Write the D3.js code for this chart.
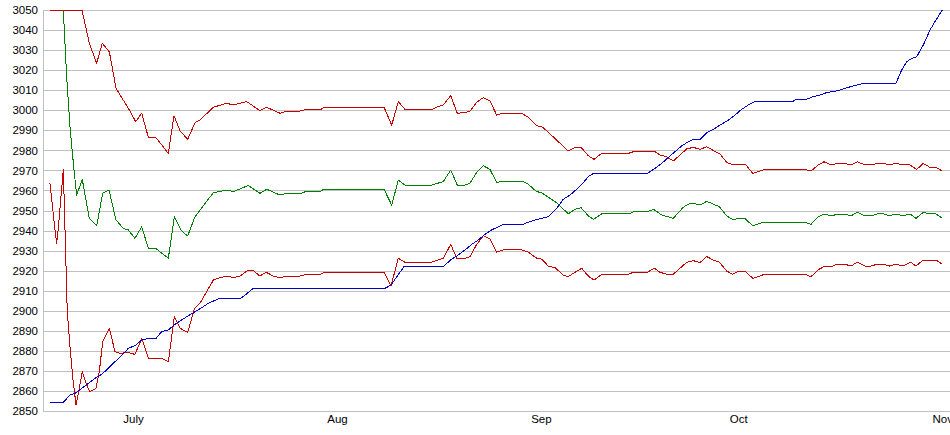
<!DOCTYPE html>
<html>
<head>
<meta charset="utf-8">
<script src="https://cdn.jsdelivr.net/npm/d3@7"></script>
<style>
  html, body { margin: 0; padding: 0; background: #fff; }
  svg { display: block; }
  text { font-family: "Liberation Sans", Arial, sans-serif; font-size: 11.5px; fill: #000; }
</style>
</head>
<body>
<svg id="chart" width="950" height="435"></svg>
<script>
// ---- Data (x = days since 1 July, value) ----
const monthLabels = ["July", "Aug", "Sep", "Oct", "Nov"];
const monthStarts = ["2007-07-01", "2007-08-01", "2007-09-01", "2007-10-01", "2007-11-01"];
const yTicks = [2850, 2860, 2870, 2880, 2890, 2900, 2910, 2920, 2930, 2940, 2950,
                2960, 2970, 2980, 2990, 3000, 3010, 3020, 3030, 3040, 3050];

const upperBand = [
  [-12.62,3050],[-7.76,3050],[-6.64,3033.4],[-5.52,3023.4],[-4.67,3033.4],[-3.60,3029.2],[-2.58,3010.9],
  [-0.71,3001],[0.41,2994.3],[1.32,2998.5],[2.33,2986.5],[3.45,2986.5],[5.37,2978.5],[6.23,2997.3],
  [7.14,2989.8],[8.31,2985.5],[9.42,2993.8],[10.18,2995.1],[12.21,3001.5],[14.24,3003.5],[15.25,3002.6],
  [17.28,3004.3],[19.30,2999.8],[20.32,3001.5],[22.34,2998.5],[23.36,2999.6],[25.38,2999.6],[26.40,3000.4],
  [28.53,3000.4],[29.03,3001.5],[38.15,3001.5],[39.32,2992.6],[40.33,3004.3],[41.34,3000.4],[45.40,3000.4],
  [46.16,3001.5],[47.16,3002.6],[48.29,3007.3],[49.29,2998.5],[50.46,2998.8],[51.22,2999.6],[52.24,3004],
  [53.25,3006.3],[54.26,3004.6],[55.28,2997.6],[56.19,2998.5],[59.08,2998.5],[60.08,2996.5],[61.36,2992.3],
  [62.12,2991.8],[62.88,2989.8],[64.65,2984.3],[66.17,2979.7],[67.18,2981.5],[68.10,2981.5],[69.21,2977.3],
  [70.07,2975.5],[71.24,2978.5],[75.29,2978.5],[76.05,2979.3],[79.34,2979.3],[80.10,2977.7],[81.12,2976.8],
  [82.12,2974.7],[83.14,2977.7],[84.16,2980.7],[85.16,2981.5],[86.18,2980.5],[87.20,2981.8],[88.72,2979],
  [89.22,2978.2],[90.24,2974],[91.24,2972.7],[93.17,2972.7],[94.19,2968.5],[95.05,2969.4],[96.06,2970.5],
  [102.14,2970.5],[103.05,2969.7],[104.16,2972.7],[105.03,2974.3],[106.20,2972.7],[106.96,2973.5],
  [108.22,2973.5],[109.13,2972.7],[110.09,2974.3],[111.26,2972.7],[112.13,2972.7],[113.13,2973.5],
  [114.04,2973.5],[114.96,2972.7],[115.97,2973.5],[117.08,2972.7],[118.10,2972.7],[119.12,2970.5],
  [120.12,2973.5],[121.14,2971.5],[122.05,2971.5],[123.01,2969.7]
];

const middleBand = [
  [-10.59,3050],[-10.08,3016.7],[-9.58,2991.8],[-8.97,2970.2],[-8.56,2957.7],[-7.71,2965.5],[-6.64,2946.1],
  [-5.52,2942.3],[-4.61,2958.6],[-3.65,2960.2],[-2.6,2945.3],[-1.47,2941.1],[-0.71,2940.3],[0.30,2936.1],
  [1.32,2941.9],[2.33,2931.1],[3.45,2931.1],[5.37,2926.2],[6.28,2946.9],[7.40,2939.8],[8.31,2937.3],
  [9.42,2946.9],[10.18,2950.2],[12.21,2958.9],[14.24,2960.2],[15.25,2959.4],[17.52,2962.5],[19.30,2958.6],
  [20.32,2960.6],[22.34,2957.7],[23.36,2958.6],[25.64,2958.6],[26.40,2959.7],[28.53,2959.7],[29.03,2960.6],
  [38.15,2960.6],[39.32,2952.7],[40.33,2965.2],[41.34,2962.7],[45.40,2962.7],[47.16,2964.4],[48.29,2970.2],
  [49.29,2962.7],[50.46,2962.7],[51.22,2963.6],[52.24,2969],[53.25,2972.3],[54.26,2970.5],[55.28,2963.9],
  [56.19,2964.7],[59.08,2964.7],[60.08,2963.1],[61.36,2959.4],[62.12,2958.9],[63.12,2956.6],[64.40,2953.9],
  [66.17,2948.3],[67.18,2950.6],[68.10,2951.4],[69.21,2947.3],[69.97,2945.6],[71.24,2948.3],[75.29,2948.3],
  [76.05,2949.3],[78.17,2949.3],[79.09,2950.6],[80.36,2947.8],[82.12,2946.1],[83.64,2951.6],[84.40,2953.2],
  [85.16,2953.6],[86.18,2952.7],[87.20,2954.6],[89.12,2951.9],[90.24,2947.3],[91.24,2945.3],[92.00,2946.1],
  [93.02,2946.1],[94.19,2942.3],[95.80,2944.1],[102.14,2944.1],[103.05,2943.1],[104.16,2946.9],[105.03,2948.3],
  [106.20,2947.3],[106.96,2948.1],[108.22,2948.1],[109.13,2947.3],[110.09,2949.1],[111.26,2947.3],
  [112.13,2947.3],[113.13,2948.3],[114.04,2948.3],[114.96,2947.3],[115.97,2948.3],[117.08,2947.4],
  [118.10,2948.3],[119.01,2946.1],[120.12,2949.1],[121.14,2948.3],[122.05,2948.3],[123.01,2946.1]
];

const lowerBand = [
  [-12.62,2963.5],[-12.21,2951.1],[-11.86,2940.3],[-11.60,2933.6],[-11.35,2941.1],[-10.99,2955.2],
  [-10.79,2962.7],[-10.59,2970.5],[-9.99,2899.5],[-9.58,2882.1],[-9.17,2867.1],[-8.66,2853],[-8.31,2858.8],
  [-7.71,2869.6],[-7.04,2863],[-6.54,2859.6],[-5.62,2861.3],[-5.12,2869.6],[-4.61,2884.6],[-3.60,2891.3],
  [-2.74,2879.6],[-1.98,2878.8],[-0.71,2879.2],[0.30,2878.2],[1.32,2886.2],[2.33,2876.3],[4.36,2876.3],
  [5.37,2874.6],[6.28,2897],[7.14,2891.3],[8.31,2889.2],[9.32,2900.9],[10.18,2903.7],[12.21,2915.3],
  [13.22,2916.5],[14.24,2917.3],[15.25,2916.5],[16.26,2917.3],[17.52,2920.3],[18.29,2920],[19.30,2917.3],
  [20.22,2919.2],[21.33,2917.3],[22.34,2916.5],[23.36,2917.3],[25.38,2917.3],[26.40,2918.2],[28.53,2918.2],
  [29.03,2919.2],[38.15,2919.2],[39.22,2912.5],[40.33,2926.2],[41.34,2924.2],[45.40,2924.2],[47.16,2926.2],
  [48.29,2933.1],[49.20,2926.2],[50.46,2926.2],[51.22,2927],[52.24,2933.1],[53.25,2937.4],[54.26,2935.8],
  [55.28,2929.2],[56.19,2930.3],[59.08,2930.3],[60.08,2929.2],[61.36,2926.2],[62.12,2925.7],[63.12,2922.3],
  [64.14,2921.5],[65.40,2917.8],[66.17,2917],[67.18,2919.2],[68.20,2921.2],[69.21,2917.3],[70.07,2915.3],
  [71.24,2918.2],[75.29,2918.2],[76.05,2919.2],[78.17,2919.2],[79.24,2921.2],[80.10,2919.2],[81.12,2918.2],
  [82.12,2918.2],[83.14,2921.2],[84.16,2924.2],[85.16,2925],[86.18,2924],[87.20,2927],[88.20,2925.3],
  [89.12,2924.2],[90.24,2919.8],[91.15,2918.2],[92.16,2919.8],[93.02,2919.8],[94.19,2916.2],[95.05,2917],
  [95.96,2918.2],[102.14,2918.2],[103.05,2917],[104.27,2920.7],[105.03,2922],[106.20,2922],[106.96,2923.2],
  [108.22,2923.2],[109.13,2922.3],[110.09,2924.2],[111.26,2922.3],[112.13,2922.3],[113.13,2923.2],
  [114.04,2923.2],[114.96,2922.3],[115.97,2923.2],[117.08,2922.3],[118.21,2924.2],[119.01,2922.3],
  [120.12,2925.3],[122.05,2925.3],[123.01,2923.2]
];

const priceLine = [
  [-12.62,2854.3],[-10.59,2854.3],[-9.58,2858],[-8.82,2858.8],[-7.81,2861.3],[-6.79,2863.8],[-5.78,2866.3],
  [-4.76,2868.3],[-3.75,2871.3],[-2.74,2874.6],[-1.72,2877.6],[-0.71,2881.3],[0.30,2882.6],[1.32,2885.4],
  [2.33,2886.2],[3.50,2886.2],[4.36,2889.6],[5.37,2890.4],[6.38,2893.2],[7.40,2895.4],[8.41,2897.5],
  [9.42,2899.5],[10.44,2901.5],[11.45,2903.7],[13.12,2906.2],[16.37,2906.2],[17.37,2908.7],[18.29,2911.2],
  [38.30,2911.2],[39.22,2912.8],[40.17,2917.3],[41.19,2922],[47.16,2922],[48.44,2925.8],[49.45,2927.8],
  [50.46,2930.3],[51.48,2933.1],[52.48,2935.3],[53.50,2938.1],[54.52,2940.3],[55.52,2941.9],[56.39,2943.1],
  [59.23,2943.1],[60.34,2944.4],[61.45,2945.6],[63.12,2946.9],[64.40,2951.1],[65.40,2955.6],[66.42,2957.7],
  [67.44,2960.6],[68.45,2963.9],[69.21,2966.9],[69.97,2968.5],[78.17,2968.5],[79.34,2971],[80.36,2973.5],
  [81.37,2976.5],[82.38,2979.3],[83.40,2982.2],[84.40,2984.3],[85.16,2985.5],[86.18,2985.5],[87.20,2988.8],
  [88.46,2991],[89.48,2993.1],[90.49,2995.1],[91.50,2997.6],[92.37,3000.1],[93.52,3002.6],[94.54,3004.3],
  [100.21,3004.3],[100.88,3005.5],[102.40,3005.5],[103.40,3006.8],[104.42,3007.6],[105.44,3008.8],
  [107.20,3009.8],[108.22,3011],[109.48,3012.1],[111.00,3013.4],[115.97,3013.4],[116.84,3020.1],
  [117.60,3024.2],[118.36,3025.9],[119.12,3026.7],[120.12,3032.5],[121.14,3040],[122.05,3045],[123.01,3050]
];

// ---- Chart ----
const plot = { left: 43, right: 950, top: 10, bottom: 411 };
const origin = Date.UTC(2007, 6, 1);
const DAY = 86400000;
const toDate = d => new Date(origin + d * DAY);

const x = d3.scaleUtc()
  .domain([toDate(-13.68), toDate(124.18)])
  .range([plot.left, plot.right]);
const y = d3.scaleLinear().domain([2850, 3050]).range([plot.bottom, plot.top]);

const svg = d3.select("#chart");

svg.append("defs").append("clipPath").attr("id", "clip")
  .append("rect").attr("x", plot.left).attr("y", plot.top - 1)
  .attr("width", plot.right - plot.left).attr("height", plot.bottom - plot.top + 2);

// Grid lines
svg.append("g").selectAll("line").data(yTicks).join("line")
  .attr("x1", plot.left).attr("x2", plot.right)
  .attr("y1", d => Math.round(y(d)) + 0.5).attr("y2", d => Math.round(y(d)) + 0.5)
  .attr("stroke", "#c0c0c0").attr("stroke-width", 1).attr("shape-rendering", "crispEdges");

// Left axis line
svg.append("line")
  .attr("x1", plot.left + 0.5).attr("x2", plot.left + 0.5)
  .attr("y1", Math.round(y(3050))).attr("y2", Math.round(y(2850)) + 1)
  .attr("stroke", "#c0c0c0").attr("shape-rendering", "crispEdges");

// Y labels
const yAxis = d3.axisLeft(y).tickValues(yTicks).tickSize(0).tickPadding(5).tickFormat(d3.format("d"));
const gy = svg.append("g").attr("transform", `translate(${plot.left},0)`).call(yAxis);
gy.select(".domain").remove();
gy.selectAll("text").style("font-family", '"Liberation Sans", Arial, sans-serif').style("font-size", "11.5px").attr("fill", "#000");

// X labels
const monthDates = monthStarts.map(s => new Date(s + "T00:00:00Z"));
const xAxis = d3.axisBottom(x).tickValues(monthDates).tickSize(0).tickPadding(0)
  .tickFormat((d, i) => monthLabels[i]);
const gx = svg.append("g").attr("transform", `translate(0,${plot.bottom})`).call(xAxis);
gx.select(".domain").remove();
gx.selectAll("text").attr("y", 12).attr("dy", 0)
  .style("font-family", '"Liberation Sans", Arial, sans-serif').style("font-size", "11.5px").attr("fill", "#000");

// Lines
const line = d3.line().x(d => x(toDate(d[0]))).y(d => y(d[1]));
const series = [
  { data: lowerBand, color: "#c80000" },
  { data: middleBand, color: "#008000" },
  { data: upperBand, color: "#c80000" },
  { data: priceLine, color: "#0000c8" }
];
const gl = svg.append("g").attr("clip-path", "url(#clip)");
gl.selectAll("path").data(series).join("path")
  .attr("d", s => line(s.data))
  .attr("fill", "none")
  .attr("stroke", s => s.color)
  .attr("stroke-width", 1)
  .attr("shape-rendering", "crispEdges")
  .attr("stroke-linejoin", "round");
</script>
</body>
</html>
